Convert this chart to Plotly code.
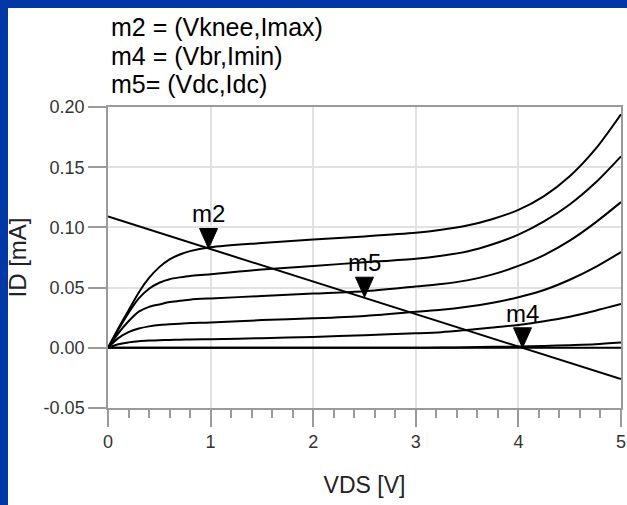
import plotly.graph_objects as go

# ---------------- data ----------------
VDS = [0, 0.1, 0.2, 0.3, 0.4, 0.5, 0.6, 0.7, 0.8, 1.0, 1.5, 2.0, 2.5, 3.0, 3.25, 3.5, 3.75, 4.0, 4.25, 4.5, 4.75, 5.0]

ID_1 = [0, 0.016, 0.031, 0.046, 0.058, 0.067, 0.0735, 0.0775, 0.0803, 0.0835, 0.087, 0.090, 0.0925, 0.0955, 0.098, 0.1015, 0.107, 0.1145, 0.126, 0.1425, 0.165, 0.194]
ID_2 = [0, 0.015, 0.029, 0.041, 0.049, 0.054, 0.057, 0.0585, 0.0597, 0.061, 0.065, 0.068, 0.071, 0.074, 0.0765, 0.080, 0.086, 0.094, 0.105, 0.119, 0.137, 0.159]
ID_3 = [0, 0.012, 0.022, 0.030, 0.034, 0.036, 0.038, 0.039, 0.040, 0.041, 0.043, 0.045, 0.047, 0.051, 0.053, 0.056, 0.061, 0.068, 0.077, 0.089, 0.104, 0.121]
ID_4 = [0, 0.008, 0.013, 0.016, 0.0178, 0.019, 0.0195, 0.020, 0.0205, 0.021, 0.023, 0.0245, 0.0265, 0.030, 0.0315, 0.034, 0.0375, 0.042, 0.048, 0.0565, 0.067, 0.0795]
ID_5 = [0, 0.003, 0.0045, 0.0055, 0.006, 0.0063, 0.0065, 0.0067, 0.0069, 0.0072, 0.008, 0.009, 0.0105, 0.012, 0.013, 0.0148, 0.0168, 0.019, 0.022, 0.0258, 0.0308, 0.0363]
ID_6 = [0, 0, 0, 0, 0, 0, 0, 0, 0, 0, 0, 0, 0, 0, 0.0002, 0.0005, 0.0008, 0.001, 0.0015, 0.0022, 0.003, 0.0044]
ID_7 = [0] * len(VDS)
CURVES = [ID_1, ID_2, ID_3, ID_4, ID_5, ID_6, ID_7]

LOAD_V = [0, 5]
LOAD_I = [0.109, -0.026]

MARKER_NAMES = ["m2", "m5", "m4"]
MARKER_V = [0.98, 2.5, 4.04]
MARKER_I = [0.0825, 0.042, 0.0]

HEADER_LINES = ["m2 = (Vknee,Imax)", "m4 = (Vbr,Imin)", "m5= (Vdc,Idc)"]

Y_TICKS = [-0.05, 0.0, 0.05, 0.10, 0.15, 0.20]
Y_TICK_TEXT = ["-0.05", "0.00", "0.05", "0.10", "0.15", "0.20"]
X_TICKS = [0, 1, 2, 3, 4, 5]
X_TICK_TEXT = ["0", "1", "2", "3", "4", "5"]

X_TITLE = "VDS [V]"
Y_TITLE = "ID [mA]"

# ---------------- figure ----------------
W, H = 627, 505
ML, MR, MT, MB = 108, 6, 107, 97
FONT = "Liberation Sans, Arial, sans-serif"
BLUE = "#0038A8"
GRID = "#e2e2e2"
AXC = "#9a9a9a"

plot_h = H - MT - MB
plot_w = W - ML - MR


def px_x(px):
    return (px - ML) / plot_w


def px_y(py):
    return (H - MB - py) / plot_h


fig = go.Figure()

for c in CURVES:
    fig.add_trace(go.Scatter(x=VDS, y=c, mode="lines",
                             line=dict(color="black", width=2, shape="spline", smoothing=0.8),
                             hoverinfo="skip", showlegend=False))

fig.add_trace(go.Scatter(x=LOAD_V, y=LOAD_I, mode="lines",
                         line=dict(color="black", width=2),
                         hoverinfo="skip", showlegend=False))

# blue slide frame strips (left and top)
shapes = [
    dict(type="rect", xref="paper", yref="paper", layer="below",
         x0=px_x(-5), x1=px_x(8), y0=px_y(H + 5), y1=px_y(-5),
         fillcolor=BLUE, line=dict(width=0)),
    dict(type="rect", xref="paper", yref="paper", layer="below",
         x0=px_x(-5), x1=px_x(W + 5), y0=px_y(8), y1=px_y(-5),
         fillcolor=BLUE, line=dict(width=0)),
]
annotations = []
for name, v, i in zip(MARKER_NAMES, MARKER_V, MARKER_I):
    shapes.append(dict(type="path", xref="x", yref="y", xsizemode="pixel", ysizemode="pixel",
                       xanchor=v, yanchor=i, path="M -9,20 L 9,20 L 0,0 Z",
                       fillcolor="black", line=dict(color="black", width=1)))
    annotations.append(dict(x=v, y=i, xref="x", yref="y", text=name, showarrow=False,
                            yanchor="bottom", xanchor="center", yshift=19,
                            font=dict(family=FONT, size=24, color="black")))

for k, line in enumerate(HEADER_LINES):
    cy = 27 + 28.5 * k
    annotations.append(dict(x=px_x(109), y=px_y(cy), xref="paper", yref="paper",
                            text=line, showarrow=False, xanchor="left", yanchor="middle",
                            font=dict(family=FONT, size=25, color="black")))

fig.update_layout(
    width=W, height=H,
    margin=dict(l=ML, r=MR, t=MT, b=MB, pad=0, autoexpand=False),
    paper_bgcolor="white", plot_bgcolor="white",
    shapes=shapes, annotations=annotations,
    font=dict(family=FONT, color="#333333"),
    xaxis=dict(range=[0, 5], tickvals=X_TICKS, ticktext=X_TICK_TEXT, automargin=False,
               showgrid=True, gridcolor=GRID, gridwidth=1.5, zeroline=False,
               showline=True, linecolor=AXC, linewidth=1.5, mirror=True,
               ticks="outside", ticklen=17, tickcolor=AXC, tickwidth=1.5,
               minor=dict(dtick=0.2, ticks="outside", ticklen=8, tickcolor=AXC, tickwidth=1.5, showgrid=False),
               tickfont=dict(family=FONT, size=18, color="#333333"),
               title=dict(text=X_TITLE, font=dict(family=FONT, size=23, color="#222222"), standoff=26)),
    yaxis=dict(range=[-0.05, 0.20], tickvals=Y_TICKS, ticktext=Y_TICK_TEXT, automargin=False,
               showgrid=True, gridcolor=GRID, gridwidth=1.5, zeroline=False,
               showline=True, linecolor=AXC, linewidth=1.5, mirror=True,
               ticks="outside", ticklen=18, tickcolor=AXC, tickwidth=1.5,
               tickfont=dict(family=FONT, size=18, color="#333333"),
               title=dict(text=Y_TITLE, font=dict(family=FONT, size=24, color="#222222"), standoff=10)),
)

fig.write_html("out.html")
